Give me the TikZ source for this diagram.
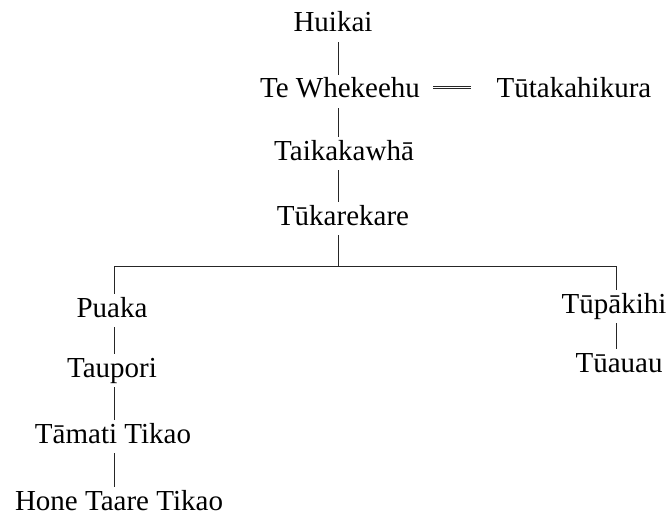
\documentclass[tikz,border=0pt]{standalone}
\usepackage{fontspec}
\setmainfont{Liberation Serif}
\begin{document}
\begin{tikzpicture}[x=1pt,y=-1pt,
  person/.style={font=\fontsize{29}{33}\selectfont, inner xsep=0pt, inner ysep=4pt,
    text height=19pt, text depth=6pt, anchor=base},
  link/.style={draw=black!85, line width=1pt}]
\useasboundingbox (0,0) rectangle (668,516);
% columns
\coordinate (c1) at (338,0);
\coordinate (c2) at (114,0);
\coordinate (c3) at (616,0);
\coordinate (bar) at (338,266);
% people
\node[person] (hu) at (333,32) {Huikai};
\node[person] (tw) at (340,98) {Te Whekeehu};
\node[person] (tt) at (574,98) {Tūtakahikura};
\node[person] (ta) at (344,160) {Taikakawhā};
\node[person] (tk) at (343,225) {Tūkarekare};
\node[person] (pu) at (112,317) {Puaka};
\node[person] (tp) at (112,377) {Taupori};
\node[person] (tm) at (113,443) {Tāmati Tikao};
\node[person] (ho) at (119,510) {Hone Taare Tikao};
\node[person] (tu) at (614,313) {Tūpākihi};
\node[person] (tau) at (619,372) {Tūauau};
% links
\draw[link] (hu.south -| c1) -- (tw.north -| c1);
\draw[link] (tw.south -| c1) -- (ta.north -| c1);
\draw[link] (ta.south -| c1) -- (tk.north -| c1);
\draw[link] (tk.south -| c1) -- (bar);
\draw[link] (pu.north -| c2) -- (c2 |- bar) -- (c3 |- bar) -- (tu.north -| c3);
\draw[link] (pu.south -| c2) -- (tp.north -| c2);
\draw[link] (tp.south -| c2) -- (tm.north -| c2);
\draw[link] (tm.south -| c2) -- (ho.north -| c2);
\draw[link] (tu.south -| c3) -- (tau.north -| c3);
\draw[black!85, line width=1pt, double, double distance=1.6pt]
  ([xshift=13pt,yshift=4pt]tw.east) -- ([xshift=-26pt,yshift=4pt]tt.west);
\end{tikzpicture}
\end{document}
